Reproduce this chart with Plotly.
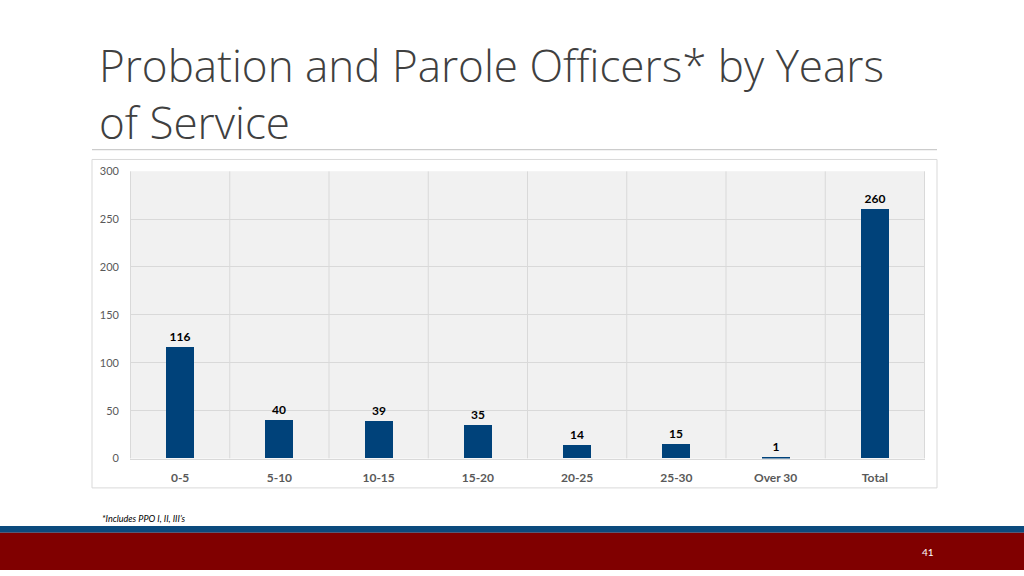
import plotly.graph_objects as go

categories = ["0-5", "5-10", "10-15", "15-20", "20-25", "25-30", "Over 30", "Total"]
officers = [116, 40, 39, 35, 14, 15, 1, 260]
y_ticks = [0, 50, 100, 150, 200, 250, 300]

BAR = "#00427a"
fig = go.Figure()
fig.add_trace(go.Bar(
    x=categories, y=officers, width=0.28, marker=dict(color=BAR, line=dict(width=0)),
    text=[str(v) for v in officers], textposition="outside", cliponaxis=False,
    textfont=dict(family="Lato", size=12, color="#000000", weight="bold"),
))

shapes = []
shapes.append(dict(type="rect", xref="paper", yref="paper", x0=92/1024, x1=937/1024,
                   y0=1-492/576, y1=1-156/576, line=dict(color="#d9d9d9", width=1), layer="below"))
for i in range(len(categories) + 1):
    shapes.append(dict(type="line", xref="x", yref="y", x0=i-0.5, x1=i-0.5, y0=0, y1=300,
                       line=dict(color="#d9d9d9", width=1), layer="below"))
shapes.append(dict(type="line", xref="paper", yref="paper", x0=92/1024, x1=937/1024,
                   y0=1-146/576, y1=1-146/576, line=dict(color="#bfbfbf", width=1)))
shapes.append(dict(type="rect", xref="paper", yref="paper", x0=0, x1=1,
                   y0=1-538/576, y1=1-531/576, fillcolor="#0b4a7d", line=dict(width=0)))
shapes.append(dict(type="rect", xref="paper", yref="paper", x0=0, x1=1,
                   y0=0, y1=1-538/576, fillcolor="#800000", line=dict(width=0)))

fig.update_layout(
    width=1024, height=576, margin=dict(l=0, r=0, t=0, b=0),
    paper_bgcolor="white", plot_bgcolor="#f1f1f1",
    showlegend=False, shapes=shapes, bargap=0,
    xaxis=dict(domain=[130/1024, 925/1024], showgrid=False, zeroline=False,
               showline=True, linecolor="#d9d9d9", ticks="",
               tickfont=dict(family="Lato", size=12, color="#595959", weight="bold"),
               ticklabelstandoff=8, fixedrange=True),
    yaxis=dict(domain=[1-462/576, 1-168/576], range=[0, 300], tickvals=y_ticks,
               showgrid=True, gridcolor="#d9d9d9", gridwidth=1, zeroline=False,
               tickfont=dict(family="Lato", size=11, color="#595959"),
               ticklabelstandoff=10, fixedrange=True),
    annotations=[
        dict(text="Probation and Parole Officers* by Years<br>of Service", xref="paper", yref="paper",
             x=97/1024, y=1-27/576, xanchor="left", yanchor="top", align="left", showarrow=False,
             font=dict(family="Open Sans", size=44, color="#404040", weight=300)),
        dict(text="<i>*Includes PPO I, II, III’s</i>", xref="paper", yref="paper",
             x=100/1024, y=1-523/576, xanchor="left", yanchor="middle", showarrow=False,
             font=dict(family="Lato", size=9, color="#000000")),
        dict(text="41", xref="paper", yref="paper",
             x=928/1024, y=1-558/576, xanchor="center", yanchor="middle", showarrow=False,
             font=dict(family="Lato", size=10, color="#ffffff")),
    ],
)
post = ("document.documentElement.style.overflow='hidden';"
        "document.body.style.margin='0';document.body.style.overflow='hidden';"
        "var d=document.getElementById('{plot_id}');d.style.position='fixed';"
        "d.style.top='0px';d.style.left='0px';")
fig.write_html("out.html", config={"displayModeBar": False}, post_script=post)
